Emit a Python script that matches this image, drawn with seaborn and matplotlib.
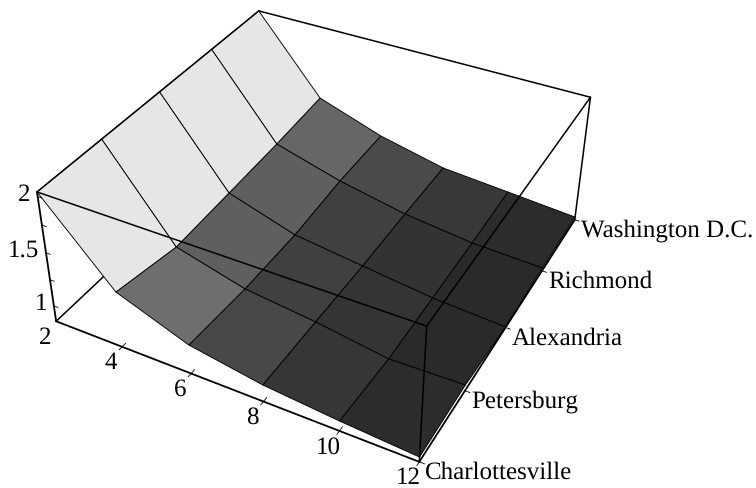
import numpy as np
import matplotlib
matplotlib.use("Agg")
import matplotlib.pyplot as plt
from mpl_toolkits.mplot3d import proj3d
import seaborn as sns

sns.set_theme(style="white")
plt.rcParams["font.family"] = ["Liberation Serif", "DejaVu Serif"]
plt.rcParams["text.hinting"] = "no_hinting"
plt.rcParams["text.hinting_factor"] = 1

cities = ["Charlottesville", "Petersburg", "Alexandria", "Richmond", "Washington D.C."]
x_vals = [2, 4, 6, 8, 10, 12]
charlottesville = [2.04, 1.369, 1.121, 1.007, 0.944, 0.895]
petersburg = [2.04, 1.251, 1.075, 0.997, 0.892, 0.905]
alexandria = [2.04, 1.272, 1.069, 0.983, 0.899, 0.855]
richmond = [2.04, 1.295, 1.116, 0.987, 0.908, 0.879]
washington = [2.04, 1.333, 1.122, 0.980, 0.930, 0.878]
z_ticks = [1, 1.25, 1.5, 1.75, 2]
z_labels = {1: "1", 1.5: "1.5", 2: "2"}
z_bot, z_top = 0.85, 2.04

# grey of each patch, one row per city gap, one column per x gap
patch_greys = [
    ["#e6e6e6", "#6e6e6e", "#484848", "#363636", "#2c2c2c"],
    ["#e6e6e6", "#5f5f5f", "#404040", "#343434", "#2a2a2a"],
    ["#e6e6e6", "#5f5f5f", "#404040", "#333333", "#2a2a2a"],
    ["#e6e6e6", "#666666", "#4a4a4a", "#383838", "#2c2c2c"],
]

# camera calibration: box corners (x, y, z) -> picture pixels
box_3d = [(2, 0, z_top), (12, 0, z_top), (12, 4, z_top), (2, 4, z_top), (2, 0, z_bot), (12, 0, z_bot), (12, 4, z_bot)]
box_px = [(37, 192), (427, 327), (591, 99), (258, 12), (57, 323), (418, 463), (575, 220)]

fig = plt.figure(figsize=(7.56, 4.89), dpi=100)
ax = fig.add_axes([0, 0, 1, 1], projection="3d")
ax.apply_aspect = lambda position=None: None
ax.set_position([0, 0, 1, 1])
ax.set_axis_off()
ax.computed_zorder = False
ax.set_xlim(2, 12)
ax.set_ylim(0, 4)
ax.set_zlim(z_bot, z_top)

to_axes = ax.transData.inverted()
A = []
for (x, y, z), (u, v) in zip(box_3d, box_px):
    u, v = to_axes.transform((u, 489 - v))
    X = [x, y, z, 1]
    A.append(X + [0, 0, 0, 0] + [-u * c for c in X])
    A.append([0, 0, 0, 0] + X + [-v * c for c in X])
P = np.linalg.svd(np.array(A))[2][-1].reshape(3, 4)
if P[2] @ [7, 2, 1.5, 1] < 0:
    P = -P
P = P / (P[2] @ [7, 2, 1.5, 1])
M = np.vstack([P[0], P[1], [0, 0, 0, -1], P[2]])
ax.get_proj = lambda: M

X, Y = np.meshgrid(x_vals, range(len(cities)))
Z = np.array([charlottesville, petersburg, alexandria, richmond, washington])
ax.plot_surface(X, Y, Z, facecolors=np.array(patch_greys), rstride=1, cstride=1, shade=False,
                edgecolor="black", linewidth=0.65, antialiased=True, zorder=2)


def edge(p, q, lw=1.1, zorder=3):
    ax.plot([p[0], q[0]], [p[1], q[1]], [p[2], q[2]], color="black", lw=lw, zorder=zorder, solid_capstyle="round")


def label(p, s, dx, dy, ha="center"):
    # text sits at the projected point, shifted in pixels (dy down)
    x2, y2, _ = proj3d.proj_transform(p[0], p[1], p[2], M)
    ax.annotate(s, xy=(x2, y2), xycoords="data", xytext=(dx, -dy), textcoords="offset pixels",
                ha=ha, va="center", fontsize=17.8, color="black", zorder=4)


# hidden floor edge goes behind the surface
edge((2, 0, z_bot), (2, 4, z_bot), zorder=1)
edge((2, 0, z_bot), (12, 0, z_bot), lw=1.3)
edge((12, 0, z_bot), (12, 4, z_bot), lw=1.3)
edge((2, 0, z_bot), (2, 0, z_top), lw=1.3)
edge((12, 0, z_bot), (12, 0, z_top))
edge((12, 4, z_bot), (12, 4, z_top))
edge((2, 0, z_top), (12, 0, z_top))
edge((12, 0, z_top), (12, 4, z_top))
edge((12, 4, z_top), (2, 4, z_top))
edge((2, 4, z_top), (2, 0, z_top))

for xv in x_vals:
    if xv > 2:
        edge((xv, -0.05, z_bot), (xv, 0.06, z_bot), lw=0.6)
    label((xv, 0, z_bot), str(xv), -11, 15.5)

for j, city in enumerate(cities):
    edge((12, j, z_bot), (12.13, j, z_bot), lw=0.6)
    label((12, j, z_bot), city, 6, 10, ha="left")

for zv in z_ticks:
    edge((2, 0, zv), (2.13, 0, zv), lw=0.6)
    if zv in z_labels:
        label((2, 0, zv), z_labels[zv], -7, -3, ha="right")

fig.savefig("out.png", dpi=100)
